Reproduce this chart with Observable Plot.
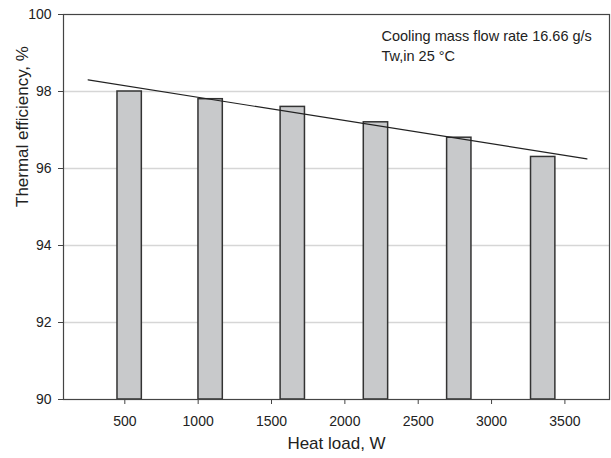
<!DOCTYPE html>
<html>
<head>
<meta charset="utf-8">
<script src="https://cdn.jsdelivr.net/npm/d3@7"></script>
<script src="https://cdn.jsdelivr.net/npm/@observablehq/plot@0.6"></script>
<style>
  html, body { margin: 0; padding: 0; background: #fff; }
  #chart svg { display: block; }
</style>
</head>
<body>
<div id="chart"></div>
<script>
// Data
const heatLoad = [533, 1085, 1645, 2212, 2780, 3352];     // W
const efficiency = [98.0, 97.8, 97.6, 97.2, 96.8, 96.3];   // %
const trendX = [250, 3650];
const trendY = [98.3, 96.25];
const xTicks = [500, 1000, 1500, 2000, 2500, 3000, 3500];
const yTicks = [90, 92, 94, 96, 98, 100];
const gridTicks = [92, 94, 96, 98];
const note1 = "Cooling mass flow rate 16.66 g/s";
const note2 = "Tw,in 25 \u00B0C";
const xLabel = "Heat load, W";
const yLabel = "Thermal efficiency, %";

const barHalf = 83; // half bar width in W
const bars = heatLoad.map((h, i) => ({h, e: efficiency[i]}));
const trend = trendX.map((x, i) => ({x, y: trendY[i]}));

const font = "'Liberation Sans', Arial, Helvetica, sans-serif";

const chart = Plot.plot({
  width: 611,
  height: 458,
  marginLeft: 63,
  marginRight: 2,
  marginTop: 14,
  marginBottom: 59,
  style: {fontFamily: font, fontSize: "14px", color: "#222", background: "#fff"},
  x: {domain: [82, 3804]},
  y: {domain: [90, 100]},
  marks: [
    Plot.gridY(gridTicks, {stroke: "#d6d6d6", strokeOpacity: 1, strokeWidth: 1.6}),
    Plot.rectY(bars, {
      x1: d => d.h - barHalf, x2: d => d.h + barHalf,
      y1: 90, y2: "e",
      fill: "#c8c9cb", stroke: "#333", strokeWidth: 1.5
    }),
    Plot.line(trend, {x: "x", y: "y", stroke: "#222", strokeWidth: 1.2}),
    Plot.frame({stroke: "#444", strokeWidth: 1.2}),
    Plot.axisX({ticks: xTicks, tickSize: 5, tickPadding: 12, tickFormat: d => String(d), label: null, fontSize: 14, stroke: "#444"}),
    Plot.axisY({ticks: yTicks, tickSize: 5, tickPadding: 7, tickFormat: d => String(d), label: null, fontSize: 14, stroke: "#444"}),
    Plot.text([xLabel], {frameAnchor: "bottom", dy: 44, text: d => d, fontSize: 17, fill: "#222", lineAnchor: "middle"}),
    Plot.text([yLabel], {frameAnchor: "left", dx: -41, rotate: -90, text: d => d, fontSize: 17, fill: "#222", lineAnchor: "middle"}),
    Plot.text([note1], {frameAnchor: "top-left", dx: 318, dy: 16, text: d => d, fontSize: 14.5, fill: "#222", textAnchor: "start", lineAnchor: "top"}),
    Plot.text([note2], {frameAnchor: "top-left", dx: 318, dy: 36, text: d => d, fontSize: 14.5, fill: "#222", textAnchor: "start", lineAnchor: "top"})
  ]
});
document.getElementById("chart").appendChild(chart);
</script>
</body>
</html>
